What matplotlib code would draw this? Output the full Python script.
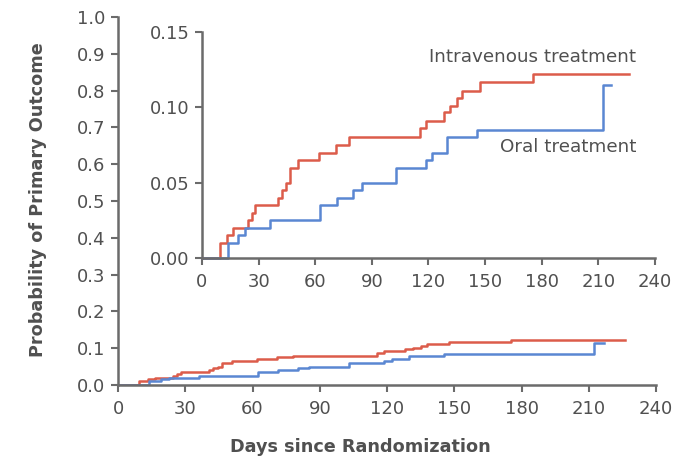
import matplotlib
matplotlib.use("Agg")
import matplotlib.pyplot as plt
import numpy as np

# step data (days, cumulative probability)
iv_days = [0, 9.5, 13.5, 16.5, 24.5, 26.5, 28, 40.5, 42.5, 44.5, 46.5, 51, 62, 71, 78,
           115.5, 118.5, 128, 131.5, 135, 138, 147.5, 175.5, 226]
iv_prob = [0, 0.010, 0.015, 0.020, 0.025, 0.030, 0.035, 0.040, 0.045, 0.050, 0.060, 0.065,
           0.070, 0.075, 0.080, 0.086, 0.091, 0.097, 0.101, 0.106, 0.111, 0.117, 0.122, 0.122]

oral_days = [0, 13.6, 19.3, 22.8, 36, 62.5, 71.3, 80.2, 85, 103, 118.5, 122, 130, 145.5,
             212.3, 216.7]
oral_prob = [0, 0.010, 0.015, 0.020, 0.025, 0.035, 0.040, 0.045, 0.050, 0.060, 0.065,
             0.070, 0.080, 0.085, 0.115, 0.115]

x_ticks = [0, 30, 60, 90, 120, 150, 180, 210, 240]
main_y_ticks = [0.0, 0.1, 0.2, 0.3, 0.4, 0.5, 0.6, 0.7, 0.8, 0.9, 1.0]
inset_y_ticks = [0.00, 0.05, 0.10, 0.15]

red = "#dc5c4a"
blue = "#5a87d2"
gray = "#6b6b6b"
txt = "#505050"

plt.rcParams['font.family'] = ['DejaVu Sans']


def style(ax, fs):
    for s in ['top', 'right']:
        ax.spines[s].set_visible(False)
    for s in ['left', 'bottom']:
        ax.spines[s].set_color(gray)
        ax.spines[s].set_linewidth(1.8)
    ax.tick_params(colors=gray, width=1.5, length=5, labelsize=fs, labelcolor=txt, pad=4)


fig = plt.figure(figsize=(6.87, 4.61), dpi=100)

ax = fig.add_axes([0.1718, 0.1649, 0.7831, 0.7982])
ax.step(iv_days, iv_prob, where='post', color=red, lw=1.8)
ax.step(oral_days, oral_prob, where='post', color=blue, lw=1.8)
ax.set_xlim(0, 240)
ax.set_ylim(0, 1.0)
ax.set_xticks(x_ticks)
ax.set_yticks(main_y_ticks)
ax.set_yticklabels([f"{v:.1f}" for v in main_y_ticks])
style(ax, 13)
ax.tick_params(axis='x', pad=6)
for sp in ax.spines.values():
    sp.set_clip_on(False)
ax.patch.set_visible(False)

ins = fig.add_axes([0.2940, 0.4403, 0.6594, 0.4903])
ins.step(iv_days, iv_prob, where='post', color=red, lw=1.8, clip_on=False)
ins.step(oral_days, oral_prob, where='post', color=blue, lw=1.8, clip_on=False)
ins.set_xlim(0, 240)
ins.set_ylim(0, 0.15)
ins.set_xticks(x_ticks)
ins.set_yticks(inset_y_ticks)
ins.set_yticklabels([f"{v:.2f}" for v in inset_y_ticks])
style(ins, 13)
ins.tick_params(axis='x', pad=6)
ins.patch.set_facecolor('white')

ins.text(230, 0.1334, "Intravenous treatment", ha='right', va='center', fontsize=13.2, color=txt)
ins.text(230, 0.0737, "Oral treatment", ha='right', va='center', fontsize=13.2, color=txt)

fig.text(360 / 687, 1 - 447 / 461, "Days since Randomization", ha='center', va='center',
         fontsize=12.7, fontweight='bold', color=txt)
fig.text(38 / 687, 1 - 200 / 461, "Probability of Primary Outcome", ha='center', va='center',
         rotation=90, fontsize=12.7, fontweight='bold', color=txt)

fig.savefig("out.png", dpi=100)
